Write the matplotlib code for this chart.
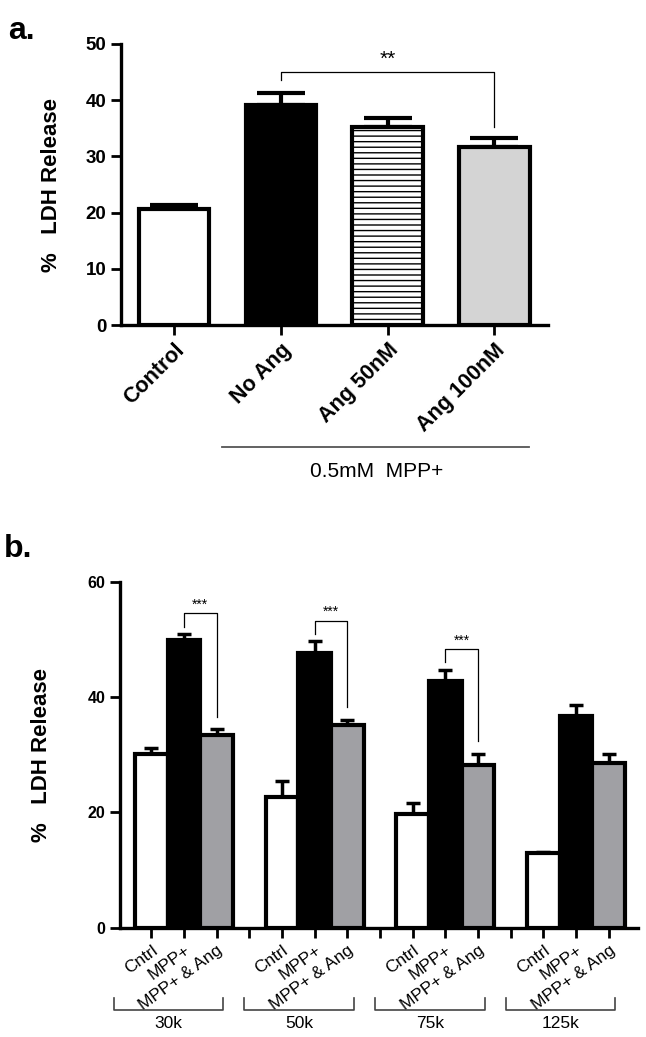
import numpy as np
import matplotlib
matplotlib.use('Agg')
import matplotlib.pyplot as plt
from matplotlib import transforms

# panel a
a_labels = ['Control', 'No Ang', 'Ang 50nM', 'Ang 100nM']
a_means = [20.6, 39.1, 35.2, 31.7]
a_err = [0.7, 2.1, 1.7, 1.5]

# panel b
b_groups = ['30k', '50k', '75k', '125k']
b_conds = ['Cntrl', 'MPP+', 'MPP+ & Ang']
b_cntrl = [30.1, 22.6, 19.8, 12.9]
b_mpp = [49.9, 47.7, 42.8, 36.7]
b_ang = [33.4, 35.1, 28.3, 28.6]
b_cntrl_err = [1.1, 2.8, 1.9, 0.3]
b_mpp_err = [1.0, 2.0, 1.9, 1.9]
b_ang_err = [1.0, 1.0, 1.8, 1.6]
b_sig_height = [54.5, 53.2, 48.3]

plt.rcParams['font.family'] = ['Liberation Sans', 'DejaVu Sans']
plt.rcParams['hatch.linewidth'] = 1.0

fig = plt.figure(figsize=(6.46, 10.37), dpi=100)

LW = 2.4


def style_axes(ax):
    for s in ['top', 'right']:
        ax.spines[s].set_visible(False)
    for s in ['left', 'bottom']:
        ax.spines[s].set_linewidth(LW)
    ax.tick_params(direction='out', length=7, width=2)


# ---------------------------- panel a --------------------------------#
ax1 = fig.add_axes([0.187, 1 - 325 / 1037, 0.661, (325 - 44) / 1037])
xa = np.arange(len(a_labels))
fills = ['white', 'black', 'white', '#d4d4d4']
hatches = [None, None, '---', None]
for i in xa:
    ax1.bar(xa[i], a_means[i], width=0.66, color=fills[i], edgecolor='black',
            linewidth=3, hatch=hatches[i], zorder=2)
ax1.errorbar(xa, a_means, yerr=[np.zeros(len(a_err)), a_err], fmt='none',
             ecolor='black', elinewidth=3, capsize=17, capthick=3, zorder=1)
style_axes(ax1)
ax1.set_xlim(-0.5, 3.5)
ax1.set_ylim(0, 50)
ax1.set_yticks([0, 10, 20, 30, 40, 50])
ax1.set_xticks(xa)
ax1.set_xticklabels(a_labels, rotation=45, ha='right', rotation_mode='anchor',
                    fontsize=15.5, fontweight='bold')
for lab in ax1.get_yticklabels():
    lab.set_fontsize(13.5)
    lab.set_fontweight('bold')
ax1.set_ylabel('%   LDH Release', fontsize=16, fontweight='bold')
ax1.yaxis.set_label_coords(-0.138, 0.5)

# significance
ya = 45.0
ax1.plot([1, 1, 3, 3], [a_means[1] + a_err[1] + 2.4, ya, ya, a_means[3] + a_err[3] + 2.1],
         color='black', lw=0.9)
ax1.text(2, ya + 0.5, '**', ha='center', va='bottom', fontsize=15)

# MPP+ group line
trans = transforms.blended_transform_factory(ax1.transData, ax1.transAxes)
ax1.plot([0.45, 3.32], [-0.434, -0.434], color='#555555', lw=1.3,
         transform=trans, clip_on=False)
ax1.text(1.9, -0.523, '0.5mM  MPP+', ha='center', va='center', fontsize=15,
         transform=trans)

fig.text(0.012, 0.985, 'a.', fontsize=23, fontweight='bold', va='top', ha='left')

# ---------------------------- panel b --------------------------------#
ax2 = fig.add_axes([0.186, 1 - 927.7 / 1037, 0.802, (927.7 - 581.7) / 1037])
ng = len(b_groups)
base = np.arange(ng) * 4
pos_c = base
pos_m = base + 1
pos_a = base + 2
ax2.bar(pos_c, b_cntrl, width=1.0, color='white', edgecolor='black', linewidth=3, zorder=2)
ax2.bar(pos_m, b_mpp, width=1.0, color='black', edgecolor='black', linewidth=3, zorder=2)
ax2.bar(pos_a, b_ang, width=1.0, color='#a0a0a4', edgecolor='black', linewidth=3, zorder=2)
for p, m, e in [(pos_c, b_cntrl, b_cntrl_err), (pos_m, b_mpp, b_mpp_err), (pos_a, b_ang, b_ang_err)]:
    ax2.errorbar(p, m, yerr=[np.zeros(ng), e], fmt='none', ecolor='black',
                 elinewidth=2.5, capsize=5, capthick=2.5, zorder=1)
style_axes(ax2)
ax2.set_xlim(-0.95, 14.9)
ax2.set_ylim(0, 60)
ax2.set_yticks([0, 20, 40, 60])
ticks = np.arange(ng * 4 - 1)
labels = []
for t in ticks:
    labels.append(b_conds[t % 4] if t % 4 < 3 else '')
ax2.set_xticks(ticks)
ax2.set_xticklabels(labels, rotation=36, ha='right', rotation_mode='anchor', fontsize=12.5)
for lab in ax2.get_yticklabels():
    lab.set_fontsize(11.5)
    lab.set_fontweight('bold')
ax2.set_ylabel('%   LDH Release', fontsize=16, fontweight='bold')
ax2.yaxis.set_label_coords(-0.131, 0.5)

for g, h in enumerate(b_sig_height):
    xl = pos_m[g]
    xr = pos_a[g]
    ax2.plot([xl, xl, xr, xr],
             [b_mpp[g] + b_mpp_err[g] + 1.3, h, h, b_ang[g] + b_ang_err[g] + 2.2],
             color='black', lw=0.9)
    ax2.text((xl + xr) / 2, h + 0.3, '***', ha='center', va='bottom', fontsize=10)

trans2 = transforms.blended_transform_factory(ax2.transData, ax2.transAxes)
for g, name in enumerate(b_groups):
    x0 = base[g] - 1.15
    x1 = base[g] + 2.2
    ax2.plot([x0, x0, x1, x1], [-0.203, -0.238, -0.238, -0.203], color='#444444',
             lw=1.2, transform=trans2, clip_on=False)
    ax2.text((x0 + x1) / 2, -0.277, name, ha='center', va='center', fontsize=12.5,
             transform=trans2)

fig.text(0.006, 0.485, 'b.', fontsize=23, fontweight='bold', va='top', ha='left')

fig.savefig('out.png', dpi=100)
